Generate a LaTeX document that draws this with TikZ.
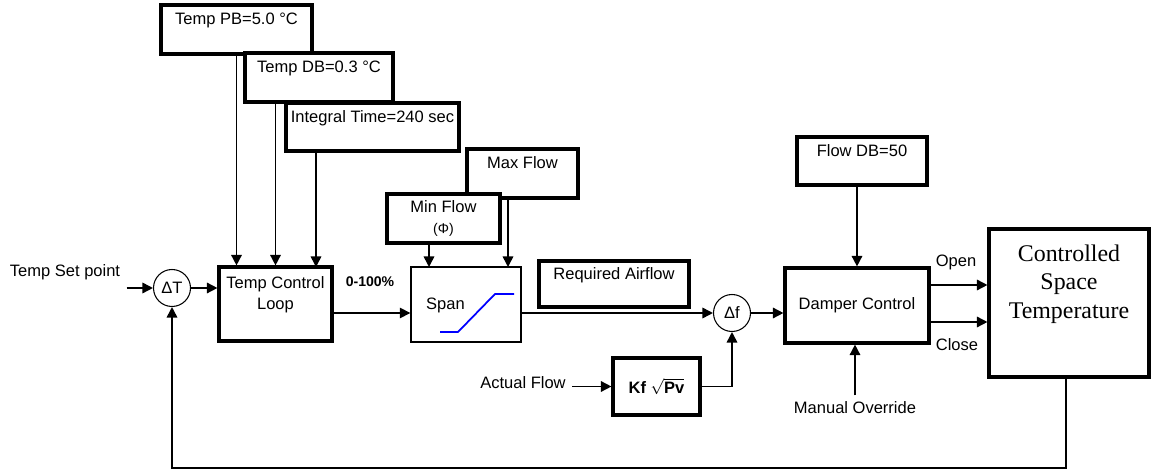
\documentclass[tikz,border=0pt]{standalone}
\usepackage{fontspec}
\setmainfont{Liberation Sans}
\newfontfamily\cstfont{Liberation Serif}
\usepackage{tikz}
\usetikzlibrary{positioning,arrows.meta,calc}

\begin{document}
\begin{tikzpicture}[x=0.02cm,y=-0.02cm,->,>={Triangle[length=6pt,width=6pt]},line width=0.9pt,font=\fontsize{9.4}{12}\selectfont]

  \tikzstyle{block}=[rectangle,draw,line width=1.8pt,fill=white,align=center,inner sep=1pt]
  \tikzstyle{spanbox}=[rectangle,draw,line width=0.8pt,fill=white]
  \tikzstyle{sum}=[circle,draw,line width=0.6pt,minimum size=0.74cm,inner sep=0pt]

  \useasboundingbox (0,0) rectangle (1153,472);

  \node[block,minimum width=3.02cm,minimum height=0.98cm] (pb) at (236.5,29.5) {Temp PB=5.0 °C\\ \mbox{}};
  \node[block,minimum width=2.96cm,minimum height=0.98cm] (db) at (319,77.5) {Temp DB=0.3 °C\\ \mbox{}};
  \node[block,minimum width=3.46cm,minimum height=0.96cm] (it) at (372.5,127) {Integral Time=240 sec\\ \mbox{}};
  \node[block,minimum width=2.26cm,minimum height=1.48cm] (tcl) at (275.5,304) {Temp Control\\Loop\\ \mbox{}};

  \node[sum] (dT) at (172,288) {ΔT};
  \node (sp) at (65,272) {Temp Set point};
  \node[font=\fontsize{8}{10}\selectfont\bfseries] (pct) at (370,282) {0-100\%};

  \node[spanbox,minimum width=2.2cm,minimum height=1.5cm] (span) at (466,304.5) {};
  \node (spanlbl) at (445.5,305) {Span};
  \node[block,minimum width=2.22cm,minimum height=0.98cm] (maxf) at (522.5,173.5) {Max Flow\\ \mbox{}};
  \node[block,minimum width=2.26cm,minimum height=0.98cm] (minf) at (443.5,218.5) {Min Flow\\{\fontsize{8}{9}\selectfont (Φ)}};
  \node[block,minimum width=3cm,minimum height=0.92cm] (req) at (614,284) {Required Airflow\\ \mbox{}};

  \node[sum] (df) at (732,313) {Δf};
  \node[block,minimum width=1.74cm,minimum height=1.14cm] (kf) at (656.5,386.5) {\textbf{Kf} $\sqrt{\textbf{Pv}}$};
  \node (af) at (523,383) {Actual Flow};

  \node[block,minimum width=2.88cm,minimum height=1.5cm] (dmp) at (857,305.5) {Damper Control};
  \node[block,minimum width=2.6cm,minimum height=0.96cm] (fdb) at (862,161) {Flow DB=50\\ \mbox{}};
  \node (mo) at (855,408) {Manual Override};
  \node (open) at (956,262) {Open};
  \node (close) at (957,345) {Close};
  \node[block,minimum width=3.2cm,minimum height=2.96cm,font=\cstfont\fontsize{13.6}{16.4}\selectfont] (cst) at (1069,303) {Controlled\\Space\\Temperature\\[8pt]\mbox{}};

  \coordinate (i3) at (316,267);
  \coordinate (s1) at (429,267);
  \coordinate (s2) at (508,267);
  \coordinate (o1) at (0,285);
  \coordinate (c1) at (0,322);
  \coordinate (fb) at (1066,468);

  \draw (sp.east |- dT) -- (dT);
  \draw (dT) -- (tcl.west |- dT);
  \draw (pb.south) -- (pb.south |- tcl.north);
  \draw (tcl.north |- db.south) -- (tcl.north);
  \draw (it.south -| i3) -- (i3);
  \draw (tcl.east |- df) -- (span.west |- df);
  \draw (minf.south -| s1) -- (s1);
  \draw (maxf.south -| s2) -- (s2);
  \draw[-,blue,line width=1pt] (440,332) -- (458,332) -- (495,294) -- (514,294);
  \draw (span.east |- df) -- (df);
  \draw (af.east |- kf) -- (kf);
  \draw (kf) -| (df);
  \draw (df) -- (dmp.west |- df);
  \draw (fdb.south -| dmp.north) -- (dmp.north);
  \draw (mo) -- (mo |- dmp.south);
  \draw (dmp.east |- o1) -- (cst.west |- o1);
  \draw (dmp.east |- c1) -- (cst.west |- c1);
  \draw (cst.south -| fb) -- (fb) -| (dT);

\end{tikzpicture}
\end{document}
